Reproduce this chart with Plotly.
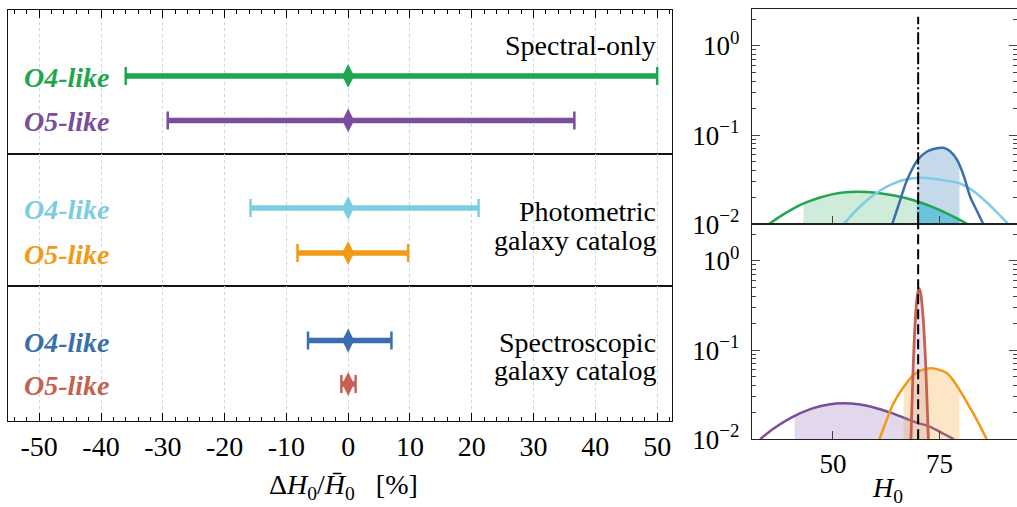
import numpy as np
import plotly.graph_objects as go

W, H = 1017, 507

# ---------------- data ----------------
scenarios = ["Spectral-only", "Photometric\ngalaxy catalog", "Spectroscopic\ngalaxy catalog"]
run_labels = ["O4-like", "O5-like"]
o4_lo = [-36.0, -15.8, -6.5]
o4_hi = [50.0, 21.1, 7.0]
o5_lo = [-29.2, -8.2, -1.1]
o5_hi = [36.6, 9.7, 1.2]
center_val = [0.0, 0.0, 0.0]

x_ticks = [-50, -40, -30, -20, -10, 0, 10, 20, 30, 40, 50]
x_ticktext = ["-50", "-40", "-30", "-20", "-10", "0", "10", "20", "30", "40", "50"]

H0_true = 70.0

# posteriors
green_h0 = [34.9, 38, 41, 44, 47, 50, 53, 55.6, 58, 61, 64, 67, 70, 73, 76, 79, 81.6]
green_p = [0.0100, 0.0126, 0.0153, 0.0178, 0.0200, 0.0218, 0.0229, 0.0232, 0.0230, 0.0223,
           0.0212, 0.0197, 0.0179, 0.0159, 0.0138, 0.0117, 0.0100]
cyan_h0 = [52.5, 55, 58, 61, 64, 67, 70.5, 74, 77, 80, 83, 86, 88.5, 91.2]
cyan_p = [0.0100, 0.0136, 0.0186, 0.0238, 0.0284, 0.0318, 0.0333, 0.0322, 0.0305, 0.0285,
          0.0235, 0.0178, 0.0136, 0.0100]
blue_h0 = [63.9, 65.5, 67.4, 70.0, 72.0, 73.6, 75.9, 77.5, 79.1, 80.7, 82.2, 83.8, 85.3]
blue_p = [0.0100, 0.0170, 0.0313, 0.0535, 0.0650, 0.0697, 0.0720, 0.0660, 0.0530, 0.0350,
          0.0204, 0.0141, 0.0100]
purple_h0 = [32.9, 36, 40, 45, 49, 52.5, 56, 59, 61.1, 64, 67, 70, 72, 75, 78.4]
purple_p = [0.0100, 0.0131, 0.0173, 0.0221, 0.0246, 0.0253, 0.0247, 0.0232, 0.0217, 0.0195,
            0.0172, 0.0152, 0.0143, 0.0122, 0.0100]
orange_h0 = [60.9, 62.5, 64.2, 66.5, 68.9, 71.0, 73.0, 75.0, 76.8, 78.5, 80.7, 82.3, 83.8, 86.1]
orange_p = [0.0100, 0.0160, 0.0253, 0.0380, 0.0525, 0.0600, 0.0624, 0.0600, 0.0550, 0.0440,
            0.0300, 0.0220, 0.0164, 0.0100]
red_h0 = [68.3, 68.8, 69.3, 69.8, 70.2, 70.6, 71.2, 71.8, 72.4]
red_p = [0.0100, 0.0590, 0.2050, 0.4120, 0.4900, 0.4300, 0.2190, 0.0625, 0.0100]

# shaded credible intervals
green_ci = [43.1, 69.7]
blue_ci = [69.7, 79.7]
purple_ci = [41.0, 72.5]
orange_ci = [66.6, 79.7]

# ---------------- styles ----------------
C_GREEN = "#1fa64f"
C_PURPLE = "#7a4e9c"
C_CYAN = "#7ccde2"
C_ORANGE = "#f29a14"
C_BLUE = "#3a6ead"
C_RED = "#c66150"
o4_colors = [C_GREEN, C_CYAN, C_BLUE]
o5_colors = [C_PURPLE, C_ORANGE, C_RED]

SERIF = "Liberation Serif"


def fx(p):
    return p / W


def fy(p):
    return 1 - p / H


fig = go.Figure()

# left panel geometry (pixels)
LX0, LX1 = 8.3, 672.0
panel_y = [(10.0, 154.0), (154.0, 285.5), (285.5, 421.0)]
row_y = [(0.542, 0.233), (0.589, 0.247), (0.594, 0.273)]
text_px = [[(45, "Spectral-only")], [(211, "Photometric"), (240, "galaxy catalog")],
           [(342, "Spectroscopic"), (370, "galaxy catalog")]]

minor_vals = [v for v in range(-54, 53, 2) if v % 10 != 0]

for i in range(3):
    xa = "x" if i == 0 else f"x{i+1}"
    ya = "y" if i == 0 else f"y{i+1}"
    xkey = "xaxis" if i == 0 else f"xaxis{i+1}"
    ykey = "yaxis" if i == 0 else f"yaxis{i+1}"
    top, bot = panel_y[i]
    ax = dict(domain=[fx(LX0), fx(LX1)], range=[-55, 52.4], anchor=ya, automargin=False,
              showline=True, linecolor="#111", linewidth=1.1, mirror=True,
              showgrid=True, gridcolor="#bcdcee", griddash="dot", gridwidth=1,
              tickvals=x_ticks, ticktext=x_ticktext, zeroline=False,
              showticklabels=False, ticks="")
    if i == 0:
        ax.update(side="top", ticks="inside", ticklen=8, tickcolor="black", tickwidth=1,
                  minor=dict(tickvals=minor_vals, ticks="inside", ticklen=4, tickcolor="black"))
    if i == 2:
        ax.update(side="bottom", ticks="inside", ticklen=8, tickcolor="black", tickwidth=1,
                  showticklabels=True, ticklabelstandoff=0,
                  tickfont=dict(family=SERIF, size=28, color="black"),
                  minor=dict(tickvals=minor_vals, ticks="inside", ticklen=4, tickcolor="black"))
    if i > 0:
        ax["matches"] = "x"
    fig.layout[xkey] = ax
    fig.layout[ykey] = dict(domain=[fy(bot), fy(top)], range=[0, 1], anchor=xa,
                            automargin=False,
                            showline=True, linecolor="#111", linewidth=1.1, mirror=True,
                            showgrid=False, zeroline=False, showticklabels=False, ticks="")

    for lo, hi, col, yy, lab in [(o4_lo[i], o4_hi[i], o4_colors[i], row_y[i][0], run_labels[0]),
                                 (o5_lo[i], o5_hi[i], o5_colors[i], row_y[i][1], run_labels[1])]:
        c = center_val[i]
        fig.add_trace(go.Scatter(x=[c + lo, c + hi], y=[yy, yy], mode="lines",
                                 line=dict(color=col, width=5.5), xaxis=xa, yaxis=ya,
                                 hoverinfo="skip"))
        fig.add_trace(go.Scatter(x=[c], y=[yy], mode="markers",
                                 marker=dict(symbol="diamond-tall", size=17, color=col),
                                 error_x=dict(type="data", symmetric=False, array=[hi],
                                              arrayminus=[-lo], color=col, thickness=2.5,
                                              width=9),
                                 xaxis=xa, yaxis=ya))
        ypix = bot - yy * (bot - top)
        fig.add_annotation(x=fx(112), y=fy(ypix + 1.5), xref="paper", yref="paper",
                           xanchor="right", yanchor="middle", showarrow=False,
                           text="<b><i>" + lab + "</i></b>",
                           font=dict(family=SERIF, size=28, color=col))
    for ypx, t in text_px[i]:
        fig.add_annotation(x=fx(658), y=fy(ypx), xref="paper", yref="paper",
                           xanchor="right", yanchor="middle", showarrow=False, text=t,
                           font=dict(family=SERIF, size=28, color="black"))

# left axis title
fig.add_annotation(x=fx(343), y=fy(486), xref="paper", yref="paper", showarrow=False,
                   xanchor="center", yanchor="middle",
                   text="\u0394<i>H</i><sub>0</sub>/<i>H\u0304</i><sub>0</sub>   [%]",
                   font=dict(family=SERIF, size=28, color="black"))

# ---------------- right panels ----------------
RX0, RX1 = 752.0, 1017.0
rpanels = [(9.3, 224.3), (224.3, 439.3)]
log_minor = [k * 10.0 ** e for e in (-2, -1, 0) for k in range(2, 10) if k * 10.0 ** e < 2.6]
for j, (top, bot) in enumerate(rpanels):
    n = 4 + j
    xkey, ykey = f"xaxis{n}", f"yaxis{n}"
    fig.layout[xkey] = dict(domain=[fx(RX0), fx(RX1)], range=[31, 93.2], anchor=f"y{n}",
                            automargin=False,
                            showline=True, linecolor="#222", linewidth=1.3, mirror=True,
                            showgrid=False, zeroline=False, tickvals=[50, 75],
                            ticktext=["50", "75"], ticks="inside", ticklen=8,
                            tickcolor="#444", showticklabels=(j == 1),
                            ticklabelstandoff=0,
                            tickfont=dict(family=SERIF, size=27, color="black"))
    fig.layout[ykey] = dict(domain=[fy(bot), fy(top)], type="log", range=[-2, 0.41],
                            anchor=f"x{n}", automargin=False,
                            showline=True, linecolor="#222", linewidth=1.3,
                            mirror="ticks", showgrid=False, zeroline=False,
                            tickvals=[1, 0.1, 0.01],
                            ticktext=["10<sup>0</sup>", "10<sup>\u22121</sup>", "10<sup>\u22122</sup>"],
                            ticks="inside", ticklen=8, tickcolor="#444",
                            ticklabelstandoff=6,
                            tickfont=dict(family=SERIF, size=27, color="black"),
                            minor=dict(tickvals=log_minor, ticks="inside", ticklen=4,
                                       tickcolor="#444"))


def fill_poly(xs, ys, a, b):
    lx = np.log10(ys)
    fa = 10 ** np.interp(a, xs, lx)
    fb = 10 ** np.interp(b, xs, lx)
    inner = [(x, y) for x, y in zip(xs, ys) if a < x < b]
    px = [a] + [p[0] for p in inner] + [b, b, a, a]
    py = [fa] + [p[1] for p in inner] + [fb, 1e-3, 1e-3, fa]
    return px, py


def add_fill(xs, ys, ci, color, n):
    px, py = fill_poly(xs, ys, ci[0], ci[1])
    fig.add_trace(go.Scatter(x=px, y=py, mode="lines", fill="toself", fillcolor=color,
                             line=dict(width=0), xaxis=f"x{n}", yaxis=f"y{n}",
                             hoverinfo="skip"))


def add_curve(xs, ys, color, n, width=2.5):
    fig.add_trace(go.Scatter(x=xs, y=ys, mode="lines", line=dict(color=color, width=width,
                                                                 shape="spline", smoothing=0.8),
                             xaxis=f"x{n}", yaxis=f"y{n}", hoverinfo="skip"))


# top right: O4-like
add_fill(green_h0, green_p, green_ci, "#cfebd9", 4)
add_fill(blue_h0, blue_p, blue_ci, "#c6d9eb", 4)
add_fill(green_h0, green_p, blue_ci, "#6cc4dc", 4)
add_curve(green_h0, green_p, C_GREEN, 4)
add_curve(cyan_h0, cyan_p, C_CYAN, 4)
add_curve(blue_h0, blue_p, C_BLUE, 4)

# bottom right: O5-like
add_fill(purple_h0, purple_p, purple_ci, "#e3d8eb", 5)
add_fill(red_h0, red_p, [red_h0[0], red_h0[-1]], "#ece4f2", 5)
add_curve(purple_h0, purple_p, C_PURPLE, 5)
add_fill(orange_h0, orange_p, orange_ci, "rgba(245,160,35,0.26)", 5)
add_curve(orange_h0, orange_p, C_ORANGE, 5)
add_curve(red_h0, red_p, C_RED, 5, width=2.8)

# true H0 line
fig.add_shape(type="line", x0=H0_true, x1=H0_true, xref="x4", y0=0, y1=0.965,
              yref="y4 domain", line=dict(color="black", width=2, dash="12px,3px,2px,3px"),
              layer="above")
fig.add_shape(type="line", x0=H0_true, x1=H0_true, xref="x5", y0=0, y1=1,
              yref="y5 domain", line=dict(color="black", width=2, dash="10px,5px"),
              layer="above")

fig.add_annotation(x=fx(887), y=fy(489), xref="paper", yref="paper", showarrow=False,
                   xanchor="center", yanchor="middle", text="<i>H</i><sub>0</sub>",
                   font=dict(family=SERIF, size=28, color="black"))

fig.update_layout(width=W, height=H, autosize=False, margin=dict(l=0, r=0, t=0, b=0),
                  paper_bgcolor="white", plot_bgcolor="white", showlegend=False)

fig.write_html("out.html")
